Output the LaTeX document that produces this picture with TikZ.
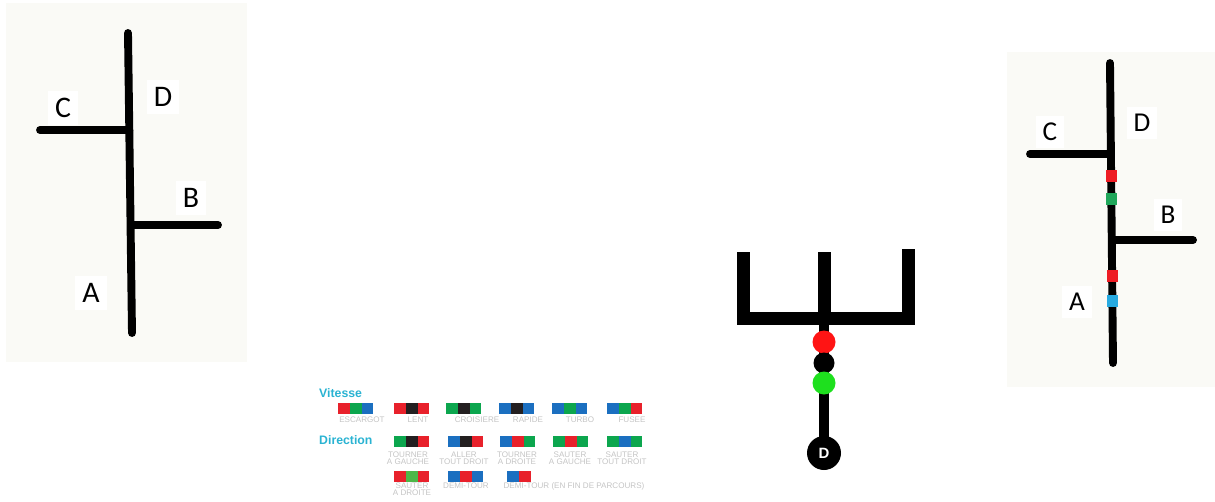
\documentclass[tikz,border=0pt]{standalone}
\usepackage{fontspec}
\setmainfont{Carlito}
\newfontfamily\legendfont{Liberation Sans}
\definecolor{panelbg}{HTML}{FAFAF6}
\definecolor{codered}{HTML}{E8212B}
\definecolor{codegreen}{HTML}{0CA64E}
\definecolor{codelime}{HTML}{4DB848}
\definecolor{codeblue}{HTML}{1B6FC0}
\definecolor{codeblack}{HTML}{231F20}
\definecolor{legendcyan}{HTML}{2AB3D2}
\definecolor{legendgray}{HTML}{C4C4C4}
\definecolor{dotred}{HTML}{FF1414}
\definecolor{dotgreen}{HTML}{1EE01E}
\definecolor{markred}{HTML}{EE1C24}
\definecolor{markgreen}{HTML}{1FA65A}
\definecolor{markblue}{HTML}{27AAE1}
\tikzset{
    track/.style={line width=4.5pt,line cap=round},
    bigletter/.style={fill=white,inner sep=4pt,font=\fontsize{17}{20}\selectfont},
    smallletter/.style={fill=white,inner sep=4pt,font=\fontsize{15.5}{18}\selectfont},
    legendhead/.style={text=legendcyan,font=\legendfont\bfseries\fontsize{7}{8}\selectfont},
    legendlbl/.style={text=legendgray,align=center,inner sep=0pt,font=\legendfont\fontsize{4.6}{4.2}\selectfont},
}
% three (or two) colour code bar, left edge #1, centre height #2
\newcommand{\codebar}[3]{%
    \foreach \c [count=\i from 0] in {#3}
        \fill[\c] ({#1+\i*11.8},{#2-5.5}) rectangle ++(11.8,11);}

\begin{document}
\begin{tikzpicture}[x=0.02cm,y=-0.02cm]
    \useasboundingbox (0,0) rectangle (1215,501);

    % left map
    \fill[panelbg] (6,3) rectangle (247,362);
    \draw[track] (128,33) -- (132,333);
    \draw[track] (40,130) -- (129.3,130);
    \draw[track] (131,225) -- (218,225);
    \node[bigletter] (lC) at (63,108) {C};
    \node[bigletter] (lD) at (163,97) {D};
    \node[bigletter] (lB) at (191,198) {B};
    \node[bigletter] (lA) at (91,293) {A};

    % legend
    \node[legendhead,anchor=west] (vitesse) at (313,393) {Vitesse};
    \node[legendhead,anchor=west] (direction) at (313,440) {Direction};
    \codebar{338}{408}{codered,codegreen,codeblue}
    \codebar{394}{408}{codered,codeblack,codered}
    \codebar{446}{408}{codegreen,codeblack,codegreen}
    \codebar{499}{408}{codeblue,codeblack,codeblue}
    \codebar{552}{408}{codeblue,codegreen,codeblue}
    \codebar{607}{408}{codeblue,codegreen,codered}
    \node[legendlbl] (escargot) at (362,420) {ESCARGOT};
    \node[legendlbl] (lent) at (418,420) {LENT};
    \node[legendlbl] (croisiere) at (477,420) {CROISIERE};
    \node[legendlbl] (rapide) at (528,420) {RAPIDE};
    \node[legendlbl] (turbo) at (580,420) {TURBO};
    \node[legendlbl] (fusee) at (632,420) {FUSEE};
    \codebar{394}{441}{codegreen,codeblack,codered}
    \codebar{448}{441}{codeblue,codeblack,codered}
    \codebar{500}{441}{codeblue,codered,codegreen}
    \codebar{553}{441}{codegreen,codered,codegreen}
    \codebar{607}{441}{codegreen,codeblue,codegreen}
    \node[legendlbl] (tgauche) at (408,458.5) {TOURNER\\A GAUCHE};
    \node[legendlbl] (droit) at (464,458.5) {ALLER\\TOUT DROIT};
    \node[legendlbl] (tdroite) at (517,458.5) {TOURNER\\A DROITE};
    \node[legendlbl] (sgauche) at (570,458.5) {SAUTER\\A GAUCHE};
    \node[legendlbl] (sdroit) at (622,458.5) {SAUTER\\TOUT DROIT};
    \codebar{394}{476}{codered,codelime,codered}
    \codebar{448}{476}{codeblue,codered,codeblue}
    \codebar{507}{476}{codeblue,codered}
    \node[legendlbl] (sdroite) at (412,489.5) {SAUTER\\A DROITE};
    \node[legendlbl] (demitour) at (466,486) {DEMI-TOUR};
    \node[legendlbl] (demifin) at (574,486) {DEMI-TOUR (EN FIN DE PARCOURS)};

    % fork with code
    \draw[line width=7.4pt,line join=miter] (743,252) -- (743,318) -- (908,318) -- (908,249);
    \draw[line width=7.4pt] (824,252) -- (824,318);
    \draw[line width=5.7pt] (824,318) -- (824,440);
    \fill[dotred] (824,342) circle (11.5);
    \fill[black] (824,363) circle (10.5);
    \fill[dotgreen] (824,383) circle (11.5);
    \node[circle,fill=black,text=white,inner sep=0pt,minimum size=0.68cm,
        font=\legendfont\bfseries\fontsize{8.5}{9}\selectfont] (start) at (824,453) {D};

    % right map with code
    \fill[panelbg] (1007,52) rectangle (1215,387);
    \draw[track] (1110,63) -- (1113,363);
    \draw[track] (1030,154) -- (1111,154);
    \draw[track] (1112,240) -- (1193,240);
    \fill[markred] (1105.8,170) rectangle ++(11,12);
    \fill[markgreen] (1106.0,193) rectangle ++(11,12);
    \fill[markred] (1106.8,270) rectangle ++(11,12);
    \fill[markblue] (1107.0,295) rectangle ++(11,12);
    \node[smallletter] (rC) at (1050,132) {C};
    \node[smallletter] (rD) at (1142,123) {D};
    \node[smallletter] (rB) at (1168,215) {B};
    \node[smallletter] (rA) at (1077,302) {A};
\end{tikzpicture}
\end{document}
